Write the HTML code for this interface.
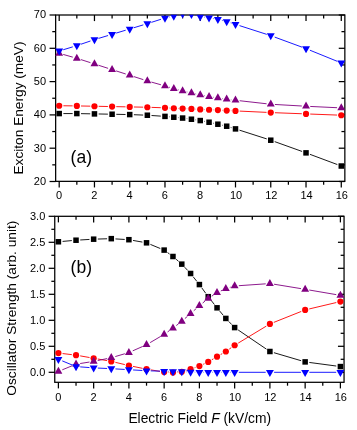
<!DOCTYPE html>
<html><head><meta charset="utf-8"><title>chart</title>
<style>
html,body{margin:0;padding:0;background:#fff;}
body{width:357px;height:430px;overflow:hidden;font-family:"Liberation Sans",sans-serif;}
svg{display:block;will-change:transform;}
text{font-family:"Liberation Sans",sans-serif;fill:#000;}
.tk{font-size:11.0px;}
.al{font-size:13.7px;}
.pl{font-size:17.5px;}
.xl{font-size:13.8px;}
</style></head><body>
<svg width="357" height="430" viewBox="0 0 357 430">
<rect width="357" height="430" fill="#fff"/>
<defs><clipPath id="ca"><rect x="54.90" y="14.75" width="290.20" height="166.85"/></clipPath><clipPath id="cb"><rect x="54.00" y="216.05" width="290.30" height="166.50"/></clipPath></defs>
<g id="pa">
<rect x="55.65" y="15.0" width="289.20" height="166.35" fill="none" stroke="#000" stroke-width="1.25"/>
<line x1="59.20" y1="15.0" x2="59.20" y2="21.1" stroke="#000" stroke-width="1.25"/>
<line x1="59.20" y1="181.35" x2="59.20" y2="187.45" stroke="#000" stroke-width="1.25"/>
<text x="59.10" y="199.00" text-anchor="middle" class="tk">0</text>
<line x1="76.83" y1="15.0" x2="76.83" y2="18.4" stroke="#000" stroke-width="1.25"/>
<line x1="76.83" y1="181.35" x2="76.83" y2="184.75" stroke="#000" stroke-width="1.25"/>
<line x1="94.46" y1="15.0" x2="94.46" y2="21.1" stroke="#000" stroke-width="1.25"/>
<line x1="94.46" y1="181.35" x2="94.46" y2="187.45" stroke="#000" stroke-width="1.25"/>
<text x="94.36" y="199.00" text-anchor="middle" class="tk">2</text>
<line x1="112.09" y1="15.0" x2="112.09" y2="18.4" stroke="#000" stroke-width="1.25"/>
<line x1="112.09" y1="181.35" x2="112.09" y2="184.75" stroke="#000" stroke-width="1.25"/>
<line x1="129.72" y1="15.0" x2="129.72" y2="21.1" stroke="#000" stroke-width="1.25"/>
<line x1="129.72" y1="181.35" x2="129.72" y2="187.45" stroke="#000" stroke-width="1.25"/>
<text x="129.62" y="199.00" text-anchor="middle" class="tk">4</text>
<line x1="147.35" y1="15.0" x2="147.35" y2="18.4" stroke="#000" stroke-width="1.25"/>
<line x1="147.35" y1="181.35" x2="147.35" y2="184.75" stroke="#000" stroke-width="1.25"/>
<line x1="164.98" y1="15.0" x2="164.98" y2="21.1" stroke="#000" stroke-width="1.25"/>
<line x1="164.98" y1="181.35" x2="164.98" y2="187.45" stroke="#000" stroke-width="1.25"/>
<text x="164.88" y="199.00" text-anchor="middle" class="tk">6</text>
<line x1="182.61" y1="15.0" x2="182.61" y2="18.4" stroke="#000" stroke-width="1.25"/>
<line x1="182.61" y1="181.35" x2="182.61" y2="184.75" stroke="#000" stroke-width="1.25"/>
<line x1="200.24" y1="15.0" x2="200.24" y2="21.1" stroke="#000" stroke-width="1.25"/>
<line x1="200.24" y1="181.35" x2="200.24" y2="187.45" stroke="#000" stroke-width="1.25"/>
<text x="200.14" y="199.00" text-anchor="middle" class="tk">8</text>
<line x1="217.87" y1="15.0" x2="217.87" y2="18.4" stroke="#000" stroke-width="1.25"/>
<line x1="217.87" y1="181.35" x2="217.87" y2="184.75" stroke="#000" stroke-width="1.25"/>
<line x1="235.50" y1="15.0" x2="235.50" y2="21.1" stroke="#000" stroke-width="1.25"/>
<line x1="235.50" y1="181.35" x2="235.50" y2="187.45" stroke="#000" stroke-width="1.25"/>
<text x="236.10" y="199.00" text-anchor="middle" class="tk">10</text>
<line x1="253.13" y1="15.0" x2="253.13" y2="18.4" stroke="#000" stroke-width="1.25"/>
<line x1="253.13" y1="181.35" x2="253.13" y2="184.75" stroke="#000" stroke-width="1.25"/>
<line x1="270.76" y1="15.0" x2="270.76" y2="21.1" stroke="#000" stroke-width="1.25"/>
<line x1="270.76" y1="181.35" x2="270.76" y2="187.45" stroke="#000" stroke-width="1.25"/>
<text x="271.36" y="199.00" text-anchor="middle" class="tk">12</text>
<line x1="288.39" y1="15.0" x2="288.39" y2="18.4" stroke="#000" stroke-width="1.25"/>
<line x1="288.39" y1="181.35" x2="288.39" y2="184.75" stroke="#000" stroke-width="1.25"/>
<line x1="306.02" y1="15.0" x2="306.02" y2="21.1" stroke="#000" stroke-width="1.25"/>
<line x1="306.02" y1="181.35" x2="306.02" y2="187.45" stroke="#000" stroke-width="1.25"/>
<text x="306.62" y="199.00" text-anchor="middle" class="tk">14</text>
<line x1="323.65" y1="15.0" x2="323.65" y2="18.4" stroke="#000" stroke-width="1.25"/>
<line x1="323.65" y1="181.35" x2="323.65" y2="184.75" stroke="#000" stroke-width="1.25"/>
<line x1="341.28" y1="15.0" x2="341.28" y2="21.1" stroke="#000" stroke-width="1.25"/>
<line x1="341.28" y1="181.35" x2="341.28" y2="187.45" stroke="#000" stroke-width="1.25"/>
<text x="341.88" y="199.00" text-anchor="middle" class="tk">16</text>
<line x1="49.55" y1="181.50" x2="55.65" y2="181.50" stroke="#000" stroke-width="1.25"/>
<line x1="338.75" y1="181.50" x2="344.85" y2="181.50" stroke="#000" stroke-width="1.25"/>
<text x="46.05" y="184.90" text-anchor="end" class="tk">20</text>
<line x1="49.55" y1="148.20" x2="55.65" y2="148.20" stroke="#000" stroke-width="1.25"/>
<line x1="338.75" y1="148.20" x2="344.85" y2="148.20" stroke="#000" stroke-width="1.25"/>
<text x="46.05" y="151.60" text-anchor="end" class="tk">30</text>
<line x1="49.55" y1="114.90" x2="55.65" y2="114.90" stroke="#000" stroke-width="1.25"/>
<line x1="338.75" y1="114.90" x2="344.85" y2="114.90" stroke="#000" stroke-width="1.25"/>
<text x="46.05" y="118.30" text-anchor="end" class="tk">40</text>
<line x1="49.55" y1="81.60" x2="55.65" y2="81.60" stroke="#000" stroke-width="1.25"/>
<line x1="338.75" y1="81.60" x2="344.85" y2="81.60" stroke="#000" stroke-width="1.25"/>
<text x="46.05" y="85.00" text-anchor="end" class="tk">50</text>
<line x1="49.55" y1="48.30" x2="55.65" y2="48.30" stroke="#000" stroke-width="1.25"/>
<line x1="338.75" y1="48.30" x2="344.85" y2="48.30" stroke="#000" stroke-width="1.25"/>
<text x="46.05" y="51.70" text-anchor="end" class="tk">60</text>
<line x1="49.55" y1="15.00" x2="55.65" y2="15.00" stroke="#000" stroke-width="1.25"/>
<line x1="338.75" y1="15.00" x2="344.85" y2="15.00" stroke="#000" stroke-width="1.25"/>
<text x="46.05" y="18.40" text-anchor="end" class="tk">70</text>
<line x1="52.25" y1="164.85" x2="55.65" y2="164.85" stroke="#000" stroke-width="1.25"/>
<line x1="341.45000000000005" y1="164.85" x2="344.85" y2="164.85" stroke="#000" stroke-width="1.25"/>
<line x1="52.25" y1="131.55" x2="55.65" y2="131.55" stroke="#000" stroke-width="1.25"/>
<line x1="341.45000000000005" y1="131.55" x2="344.85" y2="131.55" stroke="#000" stroke-width="1.25"/>
<line x1="52.25" y1="98.25" x2="55.65" y2="98.25" stroke="#000" stroke-width="1.25"/>
<line x1="341.45000000000005" y1="98.25" x2="344.85" y2="98.25" stroke="#000" stroke-width="1.25"/>
<line x1="52.25" y1="64.95" x2="55.65" y2="64.95" stroke="#000" stroke-width="1.25"/>
<line x1="341.45000000000005" y1="64.95" x2="344.85" y2="64.95" stroke="#000" stroke-width="1.25"/>
<line x1="52.25" y1="31.65" x2="55.65" y2="31.65" stroke="#000" stroke-width="1.25"/>
<line x1="341.45000000000005" y1="31.65" x2="344.85" y2="31.65" stroke="#000" stroke-width="1.25"/>
<g clip-path="url(#ca)">
<line x1="63.40" y1="113.57" x2="72.63" y2="113.57" stroke="#000000" stroke-width="0.9"/>
<line x1="81.03" y1="113.65" x2="90.26" y2="113.82" stroke="#000000" stroke-width="0.9"/>
<line x1="98.66" y1="113.98" x2="107.89" y2="114.15" stroke="#000000" stroke-width="0.9"/>
<line x1="116.29" y1="114.31" x2="125.52" y2="114.49" stroke="#000000" stroke-width="0.9"/>
<line x1="133.92" y1="114.73" x2="143.15" y2="115.07" stroke="#000000" stroke-width="0.9"/>
<line x1="151.54" y1="115.51" x2="160.79" y2="116.12" stroke="#000000" stroke-width="0.9"/>
<line x1="169.16" y1="116.79" x2="169.61" y2="116.84" stroke="#000000" stroke-width="0.9"/>
<line x1="177.98" y1="117.63" x2="178.43" y2="117.67" stroke="#000000" stroke-width="0.9"/>
<line x1="186.77" y1="118.61" x2="187.26" y2="118.68" stroke="#000000" stroke-width="0.9"/>
<line x1="195.58" y1="119.86" x2="196.09" y2="119.93" stroke="#000000" stroke-width="0.9"/>
<line x1="204.37" y1="121.34" x2="204.93" y2="121.45" stroke="#000000" stroke-width="0.9"/>
<line x1="213.15" y1="123.15" x2="213.77" y2="123.30" stroke="#000000" stroke-width="0.9"/>
<line x1="221.97" y1="125.15" x2="222.59" y2="125.29" stroke="#000000" stroke-width="0.9"/>
<line x1="230.71" y1="127.44" x2="231.48" y2="127.67" stroke="#000000" stroke-width="0.9"/>
<line x1="239.50" y1="130.17" x2="266.76" y2="138.92" stroke="#000000" stroke-width="0.9"/>
<line x1="274.71" y1="141.63" x2="302.07" y2="151.44" stroke="#000000" stroke-width="0.9"/>
<line x1="309.96" y1="154.33" x2="337.34" y2="164.55" stroke="#000000" stroke-width="0.9"/>
<rect x="56.45" y="110.82" width="5.5" height="5.5" fill="#000000"/>
<rect x="74.08" y="110.82" width="5.5" height="5.5" fill="#000000"/>
<rect x="91.71" y="111.15" width="5.5" height="5.5" fill="#000000"/>
<rect x="109.34" y="111.48" width="5.5" height="5.5" fill="#000000"/>
<rect x="126.97" y="111.82" width="5.5" height="5.5" fill="#000000"/>
<rect x="144.60" y="112.48" width="5.5" height="5.5" fill="#000000"/>
<rect x="162.23" y="113.65" width="5.5" height="5.5" fill="#000000"/>
<rect x="171.05" y="114.48" width="5.5" height="5.5" fill="#000000"/>
<rect x="179.86" y="115.31" width="5.5" height="5.5" fill="#000000"/>
<rect x="188.68" y="116.48" width="5.5" height="5.5" fill="#000000"/>
<rect x="197.49" y="117.81" width="5.5" height="5.5" fill="#000000"/>
<rect x="206.31" y="119.48" width="5.5" height="5.5" fill="#000000"/>
<rect x="215.12" y="121.47" width="5.5" height="5.5" fill="#000000"/>
<rect x="223.94" y="123.47" width="5.5" height="5.5" fill="#000000"/>
<rect x="232.75" y="126.14" width="5.5" height="5.5" fill="#000000"/>
<rect x="268.01" y="137.46" width="5.5" height="5.5" fill="#000000"/>
<rect x="303.27" y="150.11" width="5.5" height="5.5" fill="#000000"/>
<rect x="338.53" y="163.27" width="5.5" height="5.5" fill="#000000"/>
<line x1="63.40" y1="105.78" x2="72.63" y2="105.87" stroke="#ff0000" stroke-width="0.9"/>
<line x1="81.03" y1="105.99" x2="90.26" y2="106.16" stroke="#ff0000" stroke-width="0.9"/>
<line x1="98.66" y1="106.32" x2="107.89" y2="106.50" stroke="#ff0000" stroke-width="0.9"/>
<line x1="116.29" y1="106.65" x2="125.52" y2="106.83" stroke="#ff0000" stroke-width="0.9"/>
<line x1="133.92" y1="106.99" x2="143.15" y2="107.16" stroke="#ff0000" stroke-width="0.9"/>
<line x1="151.55" y1="107.38" x2="160.78" y2="107.70" stroke="#ff0000" stroke-width="0.9"/>
<line x1="169.18" y1="108.03" x2="169.60" y2="108.05" stroke="#ff0000" stroke-width="0.9"/>
<line x1="177.99" y1="108.40" x2="178.41" y2="108.41" stroke="#ff0000" stroke-width="0.9"/>
<line x1="186.81" y1="108.73" x2="187.23" y2="108.75" stroke="#ff0000" stroke-width="0.9"/>
<line x1="195.62" y1="109.14" x2="196.05" y2="109.17" stroke="#ff0000" stroke-width="0.9"/>
<line x1="204.44" y1="109.56" x2="204.86" y2="109.58" stroke="#ff0000" stroke-width="0.9"/>
<line x1="213.25" y1="109.90" x2="213.67" y2="109.91" stroke="#ff0000" stroke-width="0.9"/>
<line x1="222.06" y1="110.31" x2="222.49" y2="110.33" stroke="#ff0000" stroke-width="0.9"/>
<line x1="230.88" y1="110.73" x2="231.30" y2="110.75" stroke="#ff0000" stroke-width="0.9"/>
<line x1="239.70" y1="111.10" x2="266.56" y2="112.37" stroke="#ff0000" stroke-width="0.9"/>
<line x1="274.96" y1="112.73" x2="301.82" y2="113.74" stroke="#ff0000" stroke-width="0.9"/>
<line x1="310.22" y1="114.06" x2="337.08" y2="115.07" stroke="#ff0000" stroke-width="0.9"/>
<circle cx="59.20" cy="105.74" r="3.1" fill="#ff0000"/>
<circle cx="76.83" cy="105.91" r="3.1" fill="#ff0000"/>
<circle cx="94.46" cy="106.24" r="3.1" fill="#ff0000"/>
<circle cx="112.09" cy="106.58" r="3.1" fill="#ff0000"/>
<circle cx="129.72" cy="106.91" r="3.1" fill="#ff0000"/>
<circle cx="147.35" cy="107.24" r="3.1" fill="#ff0000"/>
<circle cx="164.98" cy="107.84" r="3.1" fill="#ff0000"/>
<circle cx="173.80" cy="108.24" r="3.1" fill="#ff0000"/>
<circle cx="182.61" cy="108.57" r="3.1" fill="#ff0000"/>
<circle cx="191.43" cy="108.91" r="3.1" fill="#ff0000"/>
<circle cx="200.24" cy="109.41" r="3.1" fill="#ff0000"/>
<circle cx="209.06" cy="109.74" r="3.1" fill="#ff0000"/>
<circle cx="217.87" cy="110.07" r="3.1" fill="#ff0000"/>
<circle cx="226.69" cy="110.57" r="3.1" fill="#ff0000"/>
<circle cx="235.50" cy="110.90" r="3.1" fill="#ff0000"/>
<circle cx="270.76" cy="112.57" r="3.1" fill="#ff0000"/>
<circle cx="306.02" cy="113.90" r="3.1" fill="#ff0000"/>
<circle cx="341.28" cy="115.23" r="3.1" fill="#ff0000"/>
<line x1="63.24" y1="54.44" x2="72.79" y2="57.15" stroke="#800080" stroke-width="0.9"/>
<line x1="80.83" y1="59.57" x2="90.46" y2="62.67" stroke="#800080" stroke-width="0.9"/>
<line x1="98.46" y1="65.24" x2="108.09" y2="68.33" stroke="#800080" stroke-width="0.9"/>
<line x1="116.09" y1="70.90" x2="125.72" y2="73.99" stroke="#800080" stroke-width="0.9"/>
<line x1="133.72" y1="76.56" x2="143.35" y2="79.65" stroke="#800080" stroke-width="0.9"/>
<line x1="151.39" y1="82.08" x2="160.94" y2="84.78" stroke="#800080" stroke-width="0.9"/>
<line x1="169.00" y1="87.14" x2="169.77" y2="87.38" stroke="#800080" stroke-width="0.9"/>
<line x1="177.86" y1="89.67" x2="178.55" y2="89.85" stroke="#800080" stroke-width="0.9"/>
<line x1="186.71" y1="91.85" x2="187.33" y2="91.99" stroke="#800080" stroke-width="0.9"/>
<line x1="195.52" y1="93.85" x2="196.14" y2="93.99" stroke="#800080" stroke-width="0.9"/>
<line x1="204.37" y1="95.70" x2="204.93" y2="95.81" stroke="#800080" stroke-width="0.9"/>
<line x1="213.21" y1="97.21" x2="213.72" y2="97.29" stroke="#800080" stroke-width="0.9"/>
<line x1="222.02" y1="98.54" x2="222.53" y2="98.62" stroke="#800080" stroke-width="0.9"/>
<line x1="230.86" y1="99.72" x2="231.33" y2="99.78" stroke="#800080" stroke-width="0.9"/>
<line x1="239.67" y1="100.72" x2="266.59" y2="103.77" stroke="#800080" stroke-width="0.9"/>
<line x1="274.95" y1="104.48" x2="301.83" y2="106.00" stroke="#800080" stroke-width="0.9"/>
<line x1="310.22" y1="106.44" x2="337.08" y2="107.71" stroke="#800080" stroke-width="0.9"/>
<polygon points="55.25,55.65 63.15,55.65 59.20,48.65" fill="#800080"/>
<polygon points="72.88,60.64 80.78,60.64 76.83,53.64" fill="#800080"/>
<polygon points="90.51,66.30 98.41,66.30 94.46,59.30" fill="#800080"/>
<polygon points="108.14,71.96 116.04,71.96 112.09,64.96" fill="#800080"/>
<polygon points="125.77,77.62 133.67,77.62 129.72,70.62" fill="#800080"/>
<polygon points="143.40,83.28 151.30,83.28 147.35,76.28" fill="#800080"/>
<polygon points="161.03,88.28 168.93,88.28 164.98,81.28" fill="#800080"/>
<polygon points="169.85,90.94 177.75,90.94 173.80,83.94" fill="#800080"/>
<polygon points="178.66,93.27 186.56,93.27 182.61,86.27" fill="#800080"/>
<polygon points="187.48,95.27 195.38,95.27 191.43,88.27" fill="#800080"/>
<polygon points="196.29,97.27 204.19,97.27 200.24,90.27" fill="#800080"/>
<polygon points="205.11,98.94 213.00,98.94 209.06,91.94" fill="#800080"/>
<polygon points="213.92,100.27 221.82,100.27 217.87,93.27" fill="#800080"/>
<polygon points="222.74,101.60 230.63,101.60 226.69,94.60" fill="#800080"/>
<polygon points="231.55,102.60 239.45,102.60 235.50,95.60" fill="#800080"/>
<polygon points="266.81,106.59 274.71,106.59 270.76,99.59" fill="#800080"/>
<polygon points="302.07,108.59 309.97,108.59 306.02,101.59" fill="#800080"/>
<polygon points="337.33,110.26 345.23,110.26 341.28,103.26" fill="#800080"/>
<line x1="63.22" y1="49.75" x2="72.81" y2="46.85" stroke="#0000ff" stroke-width="0.9"/>
<line x1="80.81" y1="44.28" x2="90.48" y2="40.99" stroke="#0000ff" stroke-width="0.9"/>
<line x1="98.48" y1="38.43" x2="108.07" y2="35.53" stroke="#0000ff" stroke-width="0.9"/>
<line x1="116.11" y1="33.10" x2="125.70" y2="30.20" stroke="#0000ff" stroke-width="0.9"/>
<line x1="133.74" y1="27.77" x2="143.33" y2="24.87" stroke="#0000ff" stroke-width="0.9"/>
<line x1="151.35" y1="22.37" x2="160.98" y2="19.28" stroke="#0000ff" stroke-width="0.9"/>
<line x1="169.08" y1="17.07" x2="169.70" y2="16.93" stroke="#0000ff" stroke-width="0.9"/>
<line x1="177.87" y1="15.00" x2="178.53" y2="14.84" stroke="#0000ff" stroke-width="0.9"/>
<line x1="186.80" y1="14.07" x2="187.23" y2="14.10" stroke="#0000ff" stroke-width="0.9"/>
<line x1="195.50" y1="15.34" x2="196.16" y2="15.50" stroke="#0000ff" stroke-width="0.9"/>
<line x1="204.39" y1="17.13" x2="204.90" y2="17.20" stroke="#0000ff" stroke-width="0.9"/>
<line x1="213.20" y1="18.53" x2="213.73" y2="18.63" stroke="#0000ff" stroke-width="0.9"/>
<line x1="221.93" y1="20.40" x2="222.62" y2="20.59" stroke="#0000ff" stroke-width="0.9"/>
<line x1="230.71" y1="22.88" x2="231.48" y2="23.11" stroke="#0000ff" stroke-width="0.9"/>
<line x1="239.50" y1="25.61" x2="266.76" y2="34.36" stroke="#0000ff" stroke-width="0.9"/>
<line x1="274.70" y1="37.10" x2="302.08" y2="47.18" stroke="#0000ff" stroke-width="0.9"/>
<line x1="309.91" y1="50.21" x2="337.39" y2="61.37" stroke="#0000ff" stroke-width="0.9"/>
<polygon points="55.25,48.61 63.15,48.61 59.20,55.61" fill="#0000ff"/>
<polygon points="72.88,43.29 80.78,43.29 76.83,50.29" fill="#0000ff"/>
<polygon points="90.51,37.29 98.41,37.29 94.46,44.29" fill="#0000ff"/>
<polygon points="108.14,31.96 116.04,31.96 112.09,38.96" fill="#0000ff"/>
<polygon points="125.77,26.64 133.67,26.64 129.72,33.64" fill="#0000ff"/>
<polygon points="143.40,21.31 151.30,21.31 147.35,28.31" fill="#0000ff"/>
<polygon points="161.03,15.65 168.93,15.65 164.98,22.65" fill="#0000ff"/>
<polygon points="169.85,13.65 177.75,13.65 173.80,20.65" fill="#0000ff"/>
<polygon points="178.66,11.48 186.56,11.48 182.61,18.48" fill="#0000ff"/>
<polygon points="187.48,11.98 195.38,11.98 191.43,18.98" fill="#0000ff"/>
<polygon points="196.29,14.15 204.19,14.15 200.24,21.15" fill="#0000ff"/>
<polygon points="205.11,15.48 213.00,15.48 209.06,22.48" fill="#0000ff"/>
<polygon points="213.92,16.98 221.82,16.98 217.87,23.98" fill="#0000ff"/>
<polygon points="222.74,19.31 230.63,19.31 226.69,26.31" fill="#0000ff"/>
<polygon points="231.55,21.97 239.45,21.97 235.50,28.97" fill="#0000ff"/>
<polygon points="266.81,33.30 274.71,33.30 270.76,40.30" fill="#0000ff"/>
<polygon points="302.07,46.28 309.97,46.28 306.02,53.28" fill="#0000ff"/>
<polygon points="337.33,60.60 345.23,60.60 341.28,67.60" fill="#0000ff"/>
</g>
<text x="70.6" y="162.6" class="pl">(a)</text>
<text transform="translate(23.4,108.0) rotate(-90)" text-anchor="middle" class="al">Exciton Energy (meV)</text>
</g>
<g id="pb">
<rect x="54.75" y="216.3" width="289.30" height="166.00" fill="none" stroke="#000" stroke-width="1.25"/>
<line x1="58.40" y1="216.3" x2="58.40" y2="222.4" stroke="#000" stroke-width="1.25"/>
<line x1="58.40" y1="382.3" x2="58.40" y2="388.40000000000003" stroke="#000" stroke-width="1.25"/>
<text x="58.30" y="401.20" text-anchor="middle" class="tk">0</text>
<line x1="76.03" y1="216.3" x2="76.03" y2="219.70000000000002" stroke="#000" stroke-width="1.25"/>
<line x1="76.03" y1="382.3" x2="76.03" y2="385.7" stroke="#000" stroke-width="1.25"/>
<line x1="93.65" y1="216.3" x2="93.65" y2="222.4" stroke="#000" stroke-width="1.25"/>
<line x1="93.65" y1="382.3" x2="93.65" y2="388.40000000000003" stroke="#000" stroke-width="1.25"/>
<text x="93.55" y="401.20" text-anchor="middle" class="tk">2</text>
<line x1="111.28" y1="216.3" x2="111.28" y2="219.70000000000002" stroke="#000" stroke-width="1.25"/>
<line x1="111.28" y1="382.3" x2="111.28" y2="385.7" stroke="#000" stroke-width="1.25"/>
<line x1="128.90" y1="216.3" x2="128.90" y2="222.4" stroke="#000" stroke-width="1.25"/>
<line x1="128.90" y1="382.3" x2="128.90" y2="388.40000000000003" stroke="#000" stroke-width="1.25"/>
<text x="128.80" y="401.20" text-anchor="middle" class="tk">4</text>
<line x1="146.53" y1="216.3" x2="146.53" y2="219.70000000000002" stroke="#000" stroke-width="1.25"/>
<line x1="146.53" y1="382.3" x2="146.53" y2="385.7" stroke="#000" stroke-width="1.25"/>
<line x1="164.15" y1="216.3" x2="164.15" y2="222.4" stroke="#000" stroke-width="1.25"/>
<line x1="164.15" y1="382.3" x2="164.15" y2="388.40000000000003" stroke="#000" stroke-width="1.25"/>
<text x="164.05" y="401.20" text-anchor="middle" class="tk">6</text>
<line x1="181.78" y1="216.3" x2="181.78" y2="219.70000000000002" stroke="#000" stroke-width="1.25"/>
<line x1="181.78" y1="382.3" x2="181.78" y2="385.7" stroke="#000" stroke-width="1.25"/>
<line x1="199.40" y1="216.3" x2="199.40" y2="222.4" stroke="#000" stroke-width="1.25"/>
<line x1="199.40" y1="382.3" x2="199.40" y2="388.40000000000003" stroke="#000" stroke-width="1.25"/>
<text x="199.30" y="401.20" text-anchor="middle" class="tk">8</text>
<line x1="217.03" y1="216.3" x2="217.03" y2="219.70000000000002" stroke="#000" stroke-width="1.25"/>
<line x1="217.03" y1="382.3" x2="217.03" y2="385.7" stroke="#000" stroke-width="1.25"/>
<line x1="234.65" y1="216.3" x2="234.65" y2="222.4" stroke="#000" stroke-width="1.25"/>
<line x1="234.65" y1="382.3" x2="234.65" y2="388.40000000000003" stroke="#000" stroke-width="1.25"/>
<text x="235.00" y="401.20" text-anchor="middle" class="tk">10</text>
<line x1="252.28" y1="216.3" x2="252.28" y2="219.70000000000002" stroke="#000" stroke-width="1.25"/>
<line x1="252.28" y1="382.3" x2="252.28" y2="385.7" stroke="#000" stroke-width="1.25"/>
<line x1="269.90" y1="216.3" x2="269.90" y2="222.4" stroke="#000" stroke-width="1.25"/>
<line x1="269.90" y1="382.3" x2="269.90" y2="388.40000000000003" stroke="#000" stroke-width="1.25"/>
<text x="270.25" y="401.20" text-anchor="middle" class="tk">12</text>
<line x1="287.52" y1="216.3" x2="287.52" y2="219.70000000000002" stroke="#000" stroke-width="1.25"/>
<line x1="287.52" y1="382.3" x2="287.52" y2="385.7" stroke="#000" stroke-width="1.25"/>
<line x1="305.15" y1="216.3" x2="305.15" y2="222.4" stroke="#000" stroke-width="1.25"/>
<line x1="305.15" y1="382.3" x2="305.15" y2="388.40000000000003" stroke="#000" stroke-width="1.25"/>
<text x="305.50" y="401.20" text-anchor="middle" class="tk">14</text>
<line x1="322.77" y1="216.3" x2="322.77" y2="219.70000000000002" stroke="#000" stroke-width="1.25"/>
<line x1="322.77" y1="382.3" x2="322.77" y2="385.7" stroke="#000" stroke-width="1.25"/>
<line x1="340.40" y1="216.3" x2="340.40" y2="222.4" stroke="#000" stroke-width="1.25"/>
<line x1="340.40" y1="382.3" x2="340.40" y2="388.40000000000003" stroke="#000" stroke-width="1.25"/>
<text x="340.75" y="401.20" text-anchor="middle" class="tk">16</text>
<line x1="48.65" y1="372.30" x2="54.75" y2="372.30" stroke="#000" stroke-width="1.25"/>
<line x1="337.95" y1="372.30" x2="344.05" y2="372.30" stroke="#000" stroke-width="1.25"/>
<text x="45.30" y="375.70" text-anchor="end" class="tk">0.0</text>
<line x1="48.65" y1="346.30" x2="54.75" y2="346.30" stroke="#000" stroke-width="1.25"/>
<line x1="337.95" y1="346.30" x2="344.05" y2="346.30" stroke="#000" stroke-width="1.25"/>
<text x="45.30" y="349.70" text-anchor="end" class="tk">0.5</text>
<line x1="48.65" y1="320.30" x2="54.75" y2="320.30" stroke="#000" stroke-width="1.25"/>
<line x1="337.95" y1="320.30" x2="344.05" y2="320.30" stroke="#000" stroke-width="1.25"/>
<text x="45.30" y="323.70" text-anchor="end" class="tk">1.0</text>
<line x1="48.65" y1="294.30" x2="54.75" y2="294.30" stroke="#000" stroke-width="1.25"/>
<line x1="337.95" y1="294.30" x2="344.05" y2="294.30" stroke="#000" stroke-width="1.25"/>
<text x="45.30" y="297.70" text-anchor="end" class="tk">1.5</text>
<line x1="48.65" y1="268.30" x2="54.75" y2="268.30" stroke="#000" stroke-width="1.25"/>
<line x1="337.95" y1="268.30" x2="344.05" y2="268.30" stroke="#000" stroke-width="1.25"/>
<text x="45.30" y="271.70" text-anchor="end" class="tk">2.0</text>
<line x1="48.65" y1="242.30" x2="54.75" y2="242.30" stroke="#000" stroke-width="1.25"/>
<line x1="337.95" y1="242.30" x2="344.05" y2="242.30" stroke="#000" stroke-width="1.25"/>
<text x="45.30" y="245.70" text-anchor="end" class="tk">2.5</text>
<line x1="48.65" y1="216.30" x2="54.75" y2="216.30" stroke="#000" stroke-width="1.25"/>
<line x1="337.95" y1="216.30" x2="344.05" y2="216.30" stroke="#000" stroke-width="1.25"/>
<text x="45.30" y="219.70" text-anchor="end" class="tk">3.0</text>
<line x1="51.35" y1="359.30" x2="54.75" y2="359.30" stroke="#000" stroke-width="1.25"/>
<line x1="340.65000000000003" y1="359.30" x2="344.05" y2="359.30" stroke="#000" stroke-width="1.25"/>
<line x1="51.35" y1="333.30" x2="54.75" y2="333.30" stroke="#000" stroke-width="1.25"/>
<line x1="340.65000000000003" y1="333.30" x2="344.05" y2="333.30" stroke="#000" stroke-width="1.25"/>
<line x1="51.35" y1="307.30" x2="54.75" y2="307.30" stroke="#000" stroke-width="1.25"/>
<line x1="340.65000000000003" y1="307.30" x2="344.05" y2="307.30" stroke="#000" stroke-width="1.25"/>
<line x1="51.35" y1="281.30" x2="54.75" y2="281.30" stroke="#000" stroke-width="1.25"/>
<line x1="340.65000000000003" y1="281.30" x2="344.05" y2="281.30" stroke="#000" stroke-width="1.25"/>
<line x1="51.35" y1="255.30" x2="54.75" y2="255.30" stroke="#000" stroke-width="1.25"/>
<line x1="340.65000000000003" y1="255.30" x2="344.05" y2="255.30" stroke="#000" stroke-width="1.25"/>
<line x1="51.35" y1="229.30" x2="54.75" y2="229.30" stroke="#000" stroke-width="1.25"/>
<line x1="340.65000000000003" y1="229.30" x2="344.05" y2="229.30" stroke="#000" stroke-width="1.25"/>
<g clip-path="url(#cb)">
<line x1="62.58" y1="241.41" x2="71.84" y2="240.59" stroke="#000000" stroke-width="0.9"/>
<line x1="80.22" y1="239.97" x2="89.46" y2="239.43" stroke="#000000" stroke-width="0.9"/>
<line x1="97.85" y1="239.06" x2="107.08" y2="238.78" stroke="#000000" stroke-width="0.9"/>
<line x1="115.47" y1="238.91" x2="124.71" y2="239.45" stroke="#000000" stroke-width="0.9"/>
<line x1="133.04" y1="240.43" x2="142.39" y2="242.09" stroke="#000000" stroke-width="0.9"/>
<line x1="150.41" y1="244.42" x2="160.27" y2="248.50" stroke="#000000" stroke-width="0.9"/>
<line x1="167.55" y1="252.57" x2="169.56" y2="254.03" stroke="#000000" stroke-width="0.9"/>
<line x1="176.14" y1="259.25" x2="178.60" y2="261.39" stroke="#000000" stroke-width="0.9"/>
<line x1="184.65" y1="267.20" x2="187.71" y2="270.44" stroke="#000000" stroke-width="0.9"/>
<line x1="193.20" y1="276.79" x2="196.79" y2="281.29" stroke="#000000" stroke-width="0.9"/>
<line x1="201.87" y1="287.97" x2="205.74" y2="293.30" stroke="#000000" stroke-width="0.9"/>
<line x1="210.82" y1="299.98" x2="214.42" y2="304.53" stroke="#000000" stroke-width="0.9"/>
<line x1="219.71" y1="311.05" x2="223.15" y2="315.20" stroke="#000000" stroke-width="0.9"/>
<line x1="228.75" y1="321.45" x2="231.74" y2="324.55" stroke="#000000" stroke-width="0.9"/>
<line x1="238.13" y1="329.94" x2="266.42" y2="349.14" stroke="#000000" stroke-width="0.9"/>
<line x1="273.93" y1="352.69" x2="301.12" y2="360.71" stroke="#000000" stroke-width="0.9"/>
<line x1="309.31" y1="362.45" x2="336.24" y2="366.03" stroke="#000000" stroke-width="0.9"/>
<rect x="55.65" y="239.03" width="5.5" height="5.5" fill="#000000"/>
<rect x="73.28" y="237.47" width="5.5" height="5.5" fill="#000000"/>
<rect x="90.90" y="236.43" width="5.5" height="5.5" fill="#000000"/>
<rect x="108.53" y="235.91" width="5.5" height="5.5" fill="#000000"/>
<rect x="126.15" y="236.95" width="5.5" height="5.5" fill="#000000"/>
<rect x="143.78" y="240.07" width="5.5" height="5.5" fill="#000000"/>
<rect x="161.40" y="247.35" width="5.5" height="5.5" fill="#000000"/>
<rect x="170.21" y="253.75" width="5.5" height="5.5" fill="#000000"/>
<rect x="179.03" y="261.39" width="5.5" height="5.5" fill="#000000"/>
<rect x="187.84" y="270.75" width="5.5" height="5.5" fill="#000000"/>
<rect x="196.65" y="281.83" width="5.5" height="5.5" fill="#000000"/>
<rect x="205.46" y="293.94" width="5.5" height="5.5" fill="#000000"/>
<rect x="214.28" y="305.07" width="5.5" height="5.5" fill="#000000"/>
<rect x="223.09" y="315.68" width="5.5" height="5.5" fill="#000000"/>
<rect x="231.90" y="324.83" width="5.5" height="5.5" fill="#000000"/>
<rect x="267.15" y="348.75" width="5.5" height="5.5" fill="#000000"/>
<rect x="302.40" y="359.15" width="5.5" height="5.5" fill="#000000"/>
<rect x="337.65" y="363.83" width="5.5" height="5.5" fill="#000000"/>
<line x1="62.57" y1="353.55" x2="71.85" y2="354.65" stroke="#ff0000" stroke-width="0.9"/>
<line x1="80.16" y1="355.87" x2="89.51" y2="357.53" stroke="#ff0000" stroke-width="0.9"/>
<line x1="97.79" y1="358.99" x2="107.14" y2="360.65" stroke="#ff0000" stroke-width="0.9"/>
<line x1="115.36" y1="362.34" x2="124.81" y2="364.58" stroke="#ff0000" stroke-width="0.9"/>
<line x1="133.01" y1="366.39" x2="142.41" y2="368.33" stroke="#ff0000" stroke-width="0.9"/>
<line x1="150.67" y1="369.85" x2="160.00" y2="371.37" stroke="#ff0000" stroke-width="0.9"/>
<line x1="168.34" y1="372.29" x2="168.77" y2="372.31" stroke="#ff0000" stroke-width="0.9"/>
<line x1="177.15" y1="372.19" x2="177.59" y2="372.15" stroke="#ff0000" stroke-width="0.9"/>
<line x1="185.80" y1="370.59" x2="186.56" y2="370.37" stroke="#ff0000" stroke-width="0.9"/>
<line x1="194.55" y1="367.78" x2="195.44" y2="367.46" stroke="#ff0000" stroke-width="0.9"/>
<line x1="203.20" y1="364.27" x2="204.41" y2="363.69" stroke="#ff0000" stroke-width="0.9"/>
<line x1="211.83" y1="359.77" x2="213.41" y2="358.83" stroke="#ff0000" stroke-width="0.9"/>
<line x1="220.64" y1="354.57" x2="222.22" y2="353.63" stroke="#ff0000" stroke-width="0.9"/>
<line x1="229.27" y1="349.07" x2="231.22" y2="347.69" stroke="#ff0000" stroke-width="0.9"/>
<line x1="238.24" y1="343.09" x2="266.31" y2="326.11" stroke="#ff0000" stroke-width="0.9"/>
<line x1="273.80" y1="322.39" x2="301.25" y2="311.45" stroke="#ff0000" stroke-width="0.9"/>
<line x1="309.24" y1="308.94" x2="336.31" y2="302.54" stroke="#ff0000" stroke-width="0.9"/>
<circle cx="58.40" cy="353.06" r="3.1" fill="#ff0000"/>
<circle cx="76.03" cy="355.14" r="3.1" fill="#ff0000"/>
<circle cx="93.65" cy="358.26" r="3.1" fill="#ff0000"/>
<circle cx="111.28" cy="361.38" r="3.1" fill="#ff0000"/>
<circle cx="128.90" cy="365.54" r="3.1" fill="#ff0000"/>
<circle cx="146.53" cy="369.18" r="3.1" fill="#ff0000"/>
<circle cx="164.15" cy="372.04" r="3.1" fill="#ff0000"/>
<circle cx="172.96" cy="372.56" r="3.1" fill="#ff0000"/>
<circle cx="181.78" cy="371.78" r="3.1" fill="#ff0000"/>
<circle cx="190.59" cy="369.18" r="3.1" fill="#ff0000"/>
<circle cx="199.40" cy="366.06" r="3.1" fill="#ff0000"/>
<circle cx="208.21" cy="361.90" r="3.1" fill="#ff0000"/>
<circle cx="217.03" cy="356.70" r="3.1" fill="#ff0000"/>
<circle cx="225.84" cy="351.50" r="3.1" fill="#ff0000"/>
<circle cx="234.65" cy="345.26" r="3.1" fill="#ff0000"/>
<circle cx="269.90" cy="323.94" r="3.1" fill="#ff0000"/>
<circle cx="305.15" cy="309.90" r="3.1" fill="#ff0000"/>
<circle cx="340.40" cy="301.58" r="3.1" fill="#ff0000"/>
<line x1="62.29" y1="369.82" x2="72.14" y2="365.78" stroke="#800080" stroke-width="0.9"/>
<line x1="80.17" y1="363.53" x2="89.50" y2="362.04" stroke="#800080" stroke-width="0.9"/>
<line x1="97.76" y1="360.53" x2="107.16" y2="358.59" stroke="#800080" stroke-width="0.9"/>
<line x1="115.30" y1="356.55" x2="124.87" y2="353.73" stroke="#800080" stroke-width="0.9"/>
<line x1="132.74" y1="350.84" x2="142.68" y2="346.44" stroke="#800080" stroke-width="0.9"/>
<line x1="150.14" y1="342.61" x2="160.53" y2="336.47" stroke="#800080" stroke-width="0.9"/>
<line x1="167.58" y1="331.91" x2="169.53" y2="330.53" stroke="#800080" stroke-width="0.9"/>
<line x1="176.29" y1="325.54" x2="178.44" y2="323.90" stroke="#800080" stroke-width="0.9"/>
<line x1="184.92" y1="318.56" x2="187.44" y2="316.32" stroke="#800080" stroke-width="0.9"/>
<line x1="193.73" y1="310.76" x2="196.25" y2="308.52" stroke="#800080" stroke-width="0.9"/>
<line x1="202.64" y1="303.07" x2="204.97" y2="301.13" stroke="#800080" stroke-width="0.9"/>
<line x1="211.74" y1="296.17" x2="213.50" y2="295.03" stroke="#800080" stroke-width="0.9"/>
<line x1="220.82" y1="290.95" x2="222.04" y2="290.37" stroke="#800080" stroke-width="0.9"/>
<line x1="229.87" y1="287.39" x2="230.62" y2="287.17" stroke="#800080" stroke-width="0.9"/>
<line x1="238.84" y1="285.69" x2="265.71" y2="283.83" stroke="#800080" stroke-width="0.9"/>
<line x1="274.04" y1="284.21" x2="301.01" y2="288.63" stroke="#800080" stroke-width="0.9"/>
<line x1="309.29" y1="290.02" x2="336.26" y2="294.63" stroke="#800080" stroke-width="0.9"/>
<polygon points="54.45,373.77 62.35,373.77 58.40,366.77" fill="#800080"/>
<polygon points="72.08,366.54 79.98,366.54 76.03,359.54" fill="#800080"/>
<polygon points="89.70,363.73 97.60,363.73 93.65,356.73" fill="#800080"/>
<polygon points="107.33,360.09 115.23,360.09 111.28,353.09" fill="#800080"/>
<polygon points="124.95,354.89 132.85,354.89 128.90,347.89" fill="#800080"/>
<polygon points="142.58,347.09 150.47,347.09 146.53,340.09" fill="#800080"/>
<polygon points="160.20,336.69 168.10,336.69 164.15,329.69" fill="#800080"/>
<polygon points="169.01,330.45 176.91,330.45 172.96,323.45" fill="#800080"/>
<polygon points="177.83,323.69 185.72,323.69 181.78,316.69" fill="#800080"/>
<polygon points="186.64,315.89 194.54,315.89 190.59,308.89" fill="#800080"/>
<polygon points="195.45,308.09 203.35,308.09 199.40,301.09" fill="#800080"/>
<polygon points="204.26,300.81 212.16,300.81 208.21,293.81" fill="#800080"/>
<polygon points="213.08,295.09 220.97,295.09 217.03,288.09" fill="#800080"/>
<polygon points="221.89,290.93 229.79,290.93 225.84,283.93" fill="#800080"/>
<polygon points="230.70,288.33 238.60,288.33 234.65,281.33" fill="#800080"/>
<polygon points="265.95,285.89 273.85,285.89 269.90,278.89" fill="#800080"/>
<polygon points="301.20,291.66 309.10,291.66 305.15,284.66" fill="#800080"/>
<polygon points="336.45,297.69 344.35,297.69 340.40,290.69" fill="#800080"/>
<line x1="62.28" y1="360.90" x2="72.14" y2="364.98" stroke="#0000ff" stroke-width="0.9"/>
<line x1="80.21" y1="366.89" x2="89.46" y2="367.57" stroke="#0000ff" stroke-width="0.9"/>
<line x1="97.85" y1="368.07" x2="107.08" y2="368.47" stroke="#0000ff" stroke-width="0.9"/>
<line x1="115.47" y1="368.91" x2="124.71" y2="369.45" stroke="#0000ff" stroke-width="0.9"/>
<line x1="133.09" y1="369.95" x2="142.33" y2="370.49" stroke="#0000ff" stroke-width="0.9"/>
<line x1="150.72" y1="370.86" x2="159.95" y2="371.14" stroke="#0000ff" stroke-width="0.9"/>
<line x1="168.35" y1="371.38" x2="168.76" y2="371.40" stroke="#0000ff" stroke-width="0.9"/>
<line x1="177.16" y1="371.59" x2="177.58" y2="371.60" stroke="#0000ff" stroke-width="0.9"/>
<line x1="185.97" y1="371.85" x2="186.39" y2="371.87" stroke="#0000ff" stroke-width="0.9"/>
<line x1="194.79" y1="372.16" x2="195.20" y2="372.18" stroke="#0000ff" stroke-width="0.9"/>
<line x1="203.60" y1="372.30" x2="204.01" y2="372.30" stroke="#0000ff" stroke-width="0.9"/>
<line x1="212.41" y1="372.30" x2="212.83" y2="372.30" stroke="#0000ff" stroke-width="0.9"/>
<line x1="221.22" y1="372.30" x2="221.64" y2="372.30" stroke="#0000ff" stroke-width="0.9"/>
<line x1="230.04" y1="372.30" x2="230.45" y2="372.30" stroke="#0000ff" stroke-width="0.9"/>
<line x1="238.85" y1="372.30" x2="265.70" y2="372.30" stroke="#0000ff" stroke-width="0.9"/>
<line x1="274.10" y1="372.30" x2="300.95" y2="372.30" stroke="#0000ff" stroke-width="0.9"/>
<line x1="309.35" y1="372.30" x2="336.20" y2="372.30" stroke="#0000ff" stroke-width="0.9"/>
<polygon points="54.45,356.95 62.35,356.95 58.40,363.95" fill="#0000ff"/>
<polygon points="72.08,364.23 79.98,364.23 76.03,371.23" fill="#0000ff"/>
<polygon points="89.70,365.53 97.60,365.53 93.65,372.53" fill="#0000ff"/>
<polygon points="107.33,366.31 115.23,366.31 111.28,373.31" fill="#0000ff"/>
<polygon points="124.95,367.35 132.85,367.35 128.90,374.35" fill="#0000ff"/>
<polygon points="142.58,368.39 150.47,368.39 146.53,375.39" fill="#0000ff"/>
<polygon points="160.20,368.91 168.10,368.91 164.15,375.91" fill="#0000ff"/>
<polygon points="169.01,369.17 176.91,369.17 172.96,376.17" fill="#0000ff"/>
<polygon points="177.83,369.33 185.72,369.33 181.78,376.33" fill="#0000ff"/>
<polygon points="186.64,369.69 194.54,369.69 190.59,376.69" fill="#0000ff"/>
<polygon points="195.45,369.95 203.35,369.95 199.40,376.95" fill="#0000ff"/>
<polygon points="204.26,369.95 212.16,369.95 208.21,376.95" fill="#0000ff"/>
<polygon points="213.08,369.95 220.97,369.95 217.03,376.95" fill="#0000ff"/>
<polygon points="221.89,369.95 229.79,369.95 225.84,376.95" fill="#0000ff"/>
<polygon points="230.70,369.95 238.60,369.95 234.65,376.95" fill="#0000ff"/>
<polygon points="265.95,369.95 273.85,369.95 269.90,376.95" fill="#0000ff"/>
<polygon points="301.20,369.95 309.10,369.95 305.15,376.95" fill="#0000ff"/>
<polygon points="336.45,369.95 344.35,369.95 340.40,376.95" fill="#0000ff"/>
</g>
<text x="70.6" y="273.0" class="pl">(b)</text>
<text transform="translate(15.6,308.2) rotate(-90)" text-anchor="middle" class="al">Oscillator Strength (arb. unit)</text>
<text x="128.4" y="422.8" class="xl">Electric Field <tspan font-style="italic">F</tspan> (kV/cm)</text>
</g>
</svg>
</body></html>
